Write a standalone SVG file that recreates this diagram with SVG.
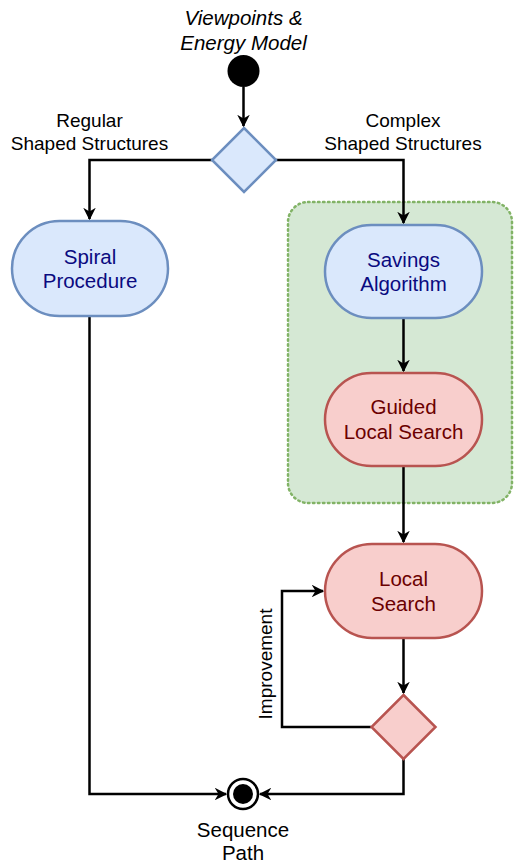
<svg xmlns="http://www.w3.org/2000/svg" width="514" height="866" viewBox="0 0 514 866">
<style>
.t{font-family:"Liberation Sans",Arial,sans-serif;text-anchor:middle}
.lbl{font-size:19px;fill:#000}
.nb{font-size:20.5px;fill:#0a0a80}
.nr{font-size:20.5px;fill:#6b0000}
.blue{fill:#dae8fc;stroke:#6c8ebf;stroke-width:2.5}
.red{fill:#f8cecc;stroke:#b85450;stroke-width:2.5}
.edge{fill:none;stroke:#000;stroke-width:2.5}
</style>
<defs>
<marker id="arr" viewBox="0 0 10 10" refX="9" refY="5" markerWidth="5" markerHeight="5" orient="auto" markerUnits="strokeWidth">
<path d="M0,0 L10,5 L0,10 L3,5 Z" fill="#000"/>
</marker>
</defs>
<rect id="group" x="288" y="202" width="224" height="301" rx="20" fill="#d5e8d4" stroke="#82b366" stroke-width="2.5" stroke-dasharray="1.5 3.5" stroke-linecap="round"/>
<g id="connectors">
<path class="edge" d="M243.5,87 V126" marker-end="url(#arr)"/>
<path class="edge" d="M212,160 H89.5 V219" marker-end="url(#arr)"/>
<path class="edge" d="M276,160 H403.5 V223" marker-end="url(#arr)"/>
<path class="edge" d="M403.5,318 V371" marker-end="url(#arr)"/>
<path class="edge" d="M403.5,466 V542" marker-end="url(#arr)"/>
<path class="edge" d="M403.5,638 V693" marker-end="url(#arr)"/>
<path class="edge" d="M371,727 H282 V591 H323" marker-end="url(#arr)"/>
<path class="edge" d="M403.5,759 V794 H260" marker-end="url(#arr)"/>
<path class="edge" d="M89.5,316 V794 H226" marker-end="url(#arr)"/>
</g>
<g id="start">
<text class="t" font-style="italic" font-size="20.5" x="243.5" y="25">Viewpoints &amp;</text>
<text class="t" font-style="italic" font-size="20.5" x="243.5" y="50">Energy Model</text>
<circle cx="243.5" cy="71" r="16" fill="#000"/>
</g>
<g id="decision1">
<path class="blue" d="M244,128 L276,160 L244,192 L212,160 Z"/>
</g>
<g id="labels">
<text class="t lbl" x="89.5" y="127">Regular</text>
<text class="t lbl" x="89.5" y="150">Shaped Structures</text>
<text class="t lbl" x="403" y="127">Complex</text>
<text class="t lbl" x="403" y="150">Shaped Structures</text>
<text class="t lbl" transform="translate(272,664) rotate(-90)">Improvement</text>
</g>
<g id="spiral">
<rect class="blue" x="12" y="221" width="156" height="95" rx="47.5"/>
<text class="t nb" x="90" y="264">Spiral</text>
<text class="t nb" x="90" y="288">Procedure</text>
</g>
<g id="savings">
<rect class="blue" x="325" y="225" width="157" height="93" rx="46.5"/>
<text class="t nb" x="403.5" y="267">Savings</text>
<text class="t nb" x="403.5" y="291">Algorithm</text>
</g>
<g id="gls">
<rect class="red" x="325" y="373" width="157" height="93" rx="46.5"/>
<text class="t nr" x="403.5" y="414">Guided</text>
<text class="t nr" x="403.5" y="439">Local Search</text>
</g>
<g id="ls">
<rect class="red" x="325" y="544" width="157" height="94" rx="47"/>
<text class="t nr" x="403.5" y="586">Local</text>
<text class="t nr" x="403.5" y="611">Search</text>
</g>
<g id="decision2">
<path class="red" d="M403.5,695 L435.5,727 L403.5,759 L371.5,727 Z"/>
</g>
<g id="end">
<circle cx="243" cy="794" r="15" fill="#fff" stroke="#000" stroke-width="2.5"/>
<circle cx="243" cy="794" r="10" fill="#000"/>
<text class="t" font-size="20.5" x="243" y="837">Sequence</text>
<text class="t" font-size="20.5" x="243" y="860">Path</text>
</g>
</svg>
